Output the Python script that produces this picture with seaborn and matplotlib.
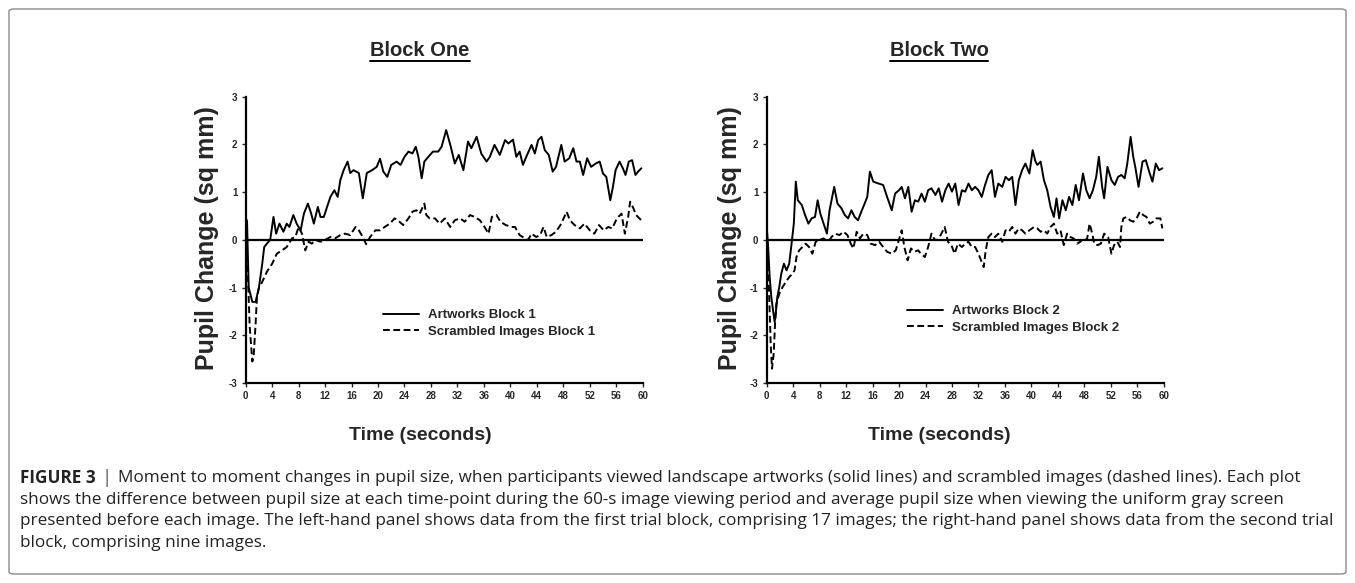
import pandas as pd
import matplotlib.pyplot as plt
import seaborn as sns
from matplotlib.patches import FancyBboxPatch
from matplotlib.lines import Line2D

# (time s, pupil change sq mm)
artworks_block1 = [
    (0.0, 0.45), (0.2, 0.4), (0.45, -1.0), (1.0, -1.3), (1.5, -1.3), (2.0, -1.0), (2.5, -0.5),
    (2.8, -0.15), (3.2, -0.08), (3.7, 0.0), (4.2, 0.48), (4.6, 0.13), (5.1, 0.34), (5.7, 0.17),
    (6.2, 0.34), (6.6, 0.27), (7.2, 0.52), (7.7, 0.34), (8.3, 0.2), (8.8, 0.55), (9.4, 0.76),
    (9.9, 0.55), (10.3, 0.34), (10.9, 0.69), (11.3, 0.48), (11.8, 0.48), (12.3, 0.69), (12.8, 0.9),
    (13.4, 1.04), (13.9, 0.9), (14.3, 1.25), (14.8, 1.46), (15.4, 1.64), (15.8, 1.4), (16.3, 1.46),
    (17.1, 1.4), (17.7, 0.87), (18.3, 1.4), (19.1, 1.46), (19.8, 1.53), (20.3, 1.7), (20.8, 1.43),
    (21.4, 1.32), (22.0, 1.57), (22.8, 1.64), (23.4, 1.57), (24.0, 1.74), (24.6, 1.85), (25.2, 1.81),
    (25.7, 1.95), (26.1, 1.74), (26.6, 1.29), (27.0, 1.64), (27.6, 1.74), (28.3, 1.85), (29.1, 1.85),
    (29.6, 1.95), (30.3, 2.3), (31.0, 1.95), (31.6, 1.6), (32.2, 1.78), (32.9, 1.46), (33.6, 2.06),
    (34.1, 1.92), (34.9, 2.16), (35.6, 1.81), (36.4, 1.64), (36.9, 1.74), (37.6, 1.99), (38.4, 1.78),
    (39.2, 2.09), (39.7, 2.02), (40.4, 2.1), (40.9, 1.74), (41.4, 1.85), (41.9, 1.57), (42.4, 1.74),
    (43.2, 1.99), (43.7, 1.81), (44.2, 2.09), (44.7, 2.16), (45.2, 1.88), (45.8, 1.78), (46.4, 1.43),
    (46.9, 1.53), (47.7, 1.99), (48.2, 1.64), (48.9, 1.71), (49.5, 1.92), (50.0, 1.64), (50.5, 1.64),
    (51.0, 1.36), (51.6, 1.71), (52.2, 1.53), (52.9, 1.6), (53.5, 1.64), (54.0, 1.39), (54.5, 1.32),
    (55.1, 0.83), (55.5, 1.11), (55.9, 1.46), (56.5, 1.64), (57.0, 1.5), (57.4, 1.36), (57.9, 1.64),
    (58.4, 1.67), (58.9, 1.36), (59.3, 1.43), (59.8, 1.5),
]

scrambled_block1 = [
    (0.0, -0.1), (0.3, -0.6), (0.6, -1.8), (1.0, -2.55), (1.2, -2.45), (1.5, -1.75), (1.7, -1.2),
    (2.0, -1.0), (2.5, -0.88), (3.2, -0.67), (4.0, -0.5), (4.7, -0.29), (5.5, -0.22), (6.2, -0.15),
    (7.0, 0.03), (7.5, 0.06), (8.0, 0.27), (8.5, 0.13), (9.0, -0.22), (9.5, -0.04), (10.0, -0.08),
    (10.5, 0.0), (11.3, -0.04), (12.0, 0.0), (12.8, 0.06), (13.5, 0.03), (14.3, 0.1), (15.0, 0.13),
    (15.8, 0.1), (16.6, 0.27), (17.1, 0.2), (17.7, 0.06), (18.2, -0.09), (18.8, 0.06), (19.6, 0.2),
    (20.3, 0.2), (21.0, 0.27), (21.8, 0.34), (22.5, 0.45), (23.0, 0.41), (23.8, 0.31), (24.6, 0.45),
    (25.2, 0.59), (25.8, 0.62), (26.3, 0.55), (27.0, 0.76), (27.3, 0.52), (27.8, 0.45), (28.6, 0.45),
    (29.3, 0.34), (30.1, 0.45), (30.9, 0.27), (31.6, 0.41), (32.4, 0.45), (33.1, 0.38), (33.9, 0.52),
    (34.6, 0.48), (35.4, 0.41), (36.1, 0.27), (36.7, 0.13), (37.2, 0.48), (37.9, 0.52), (38.5, 0.38),
    (39.3, 0.31), (40.2, 0.27), (40.7, 0.27), (41.4, 0.1), (42.2, 0.03), (42.7, 0.0), (43.2, 0.13),
    (43.9, 0.06), (44.5, 0.1), (45.0, 0.27), (45.5, 0.06), (46.2, 0.1), (46.9, 0.17), (47.7, 0.34),
    (48.5, 0.59), (49.0, 0.41), (49.7, 0.31), (50.5, 0.24), (51.2, 0.34), (52.0, 0.2), (52.7, 0.13),
    (53.4, 0.31), (54.1, 0.2), (54.8, 0.27), (55.4, 0.24), (56.1, 0.45), (56.8, 0.55), (57.3, 0.13),
    (57.8, 0.48), (58.1, 0.8), (58.6, 0.66), (59.0, 0.52), (59.5, 0.45), (59.8, 0.41),
]

artworks_block2 = [
    (0.0, 0.27), (0.2, -0.1), (0.45, -0.78), (0.7, -1.2), (0.96, -1.48), (1.2, -1.72), (1.36, -1.55),
    (1.6, -1.2), (1.9, -0.99), (2.2, -0.71), (2.6, -0.5), (3.0, -0.64), (3.4, -0.5), (3.7, -0.15),
    (4.1, 0.34), (4.4, 1.22), (4.7, 0.83), (5.3, 0.73), (5.8, 0.52), (6.3, 0.34), (6.8, 0.45),
    (7.3, 0.48), (7.7, 0.83), (8.1, 0.55), (8.6, 0.34), (9.1, 0.13), (9.5, 0.62), (10.2, 1.11),
    (10.7, 0.76), (11.3, 0.66), (11.8, 0.52), (12.3, 0.45), (12.8, 0.62), (13.3, 0.48), (13.8, 0.41),
    (14.3, 0.59), (14.8, 0.76), (15.2, 0.9), (15.6, 1.43), (16.1, 1.22), (16.9, 1.18), (17.6, 1.15),
    (18.2, 0.9), (18.9, 0.62), (19.4, 0.97), (20.0, 1.04), (20.4, 1.11), (20.9, 0.87), (21.4, 1.11),
    (21.9, 0.59), (22.4, 0.83), (22.9, 0.8), (23.4, 0.97), (23.9, 0.8), (24.4, 1.04), (24.9, 1.08),
    (25.5, 0.94), (26.0, 1.08), (26.5, 0.8), (27.0, 1.04), (27.5, 1.18), (28.0, 1.01), (28.5, 1.18),
    (29.0, 0.73), (29.5, 1.04), (30.0, 1.01), (30.5, 1.18), (31.0, 1.04), (31.5, 1.11), (32.0, 1.04),
    (32.5, 0.9), (33.0, 1.15), (33.5, 1.36), (34.0, 1.46), (34.5, 0.9), (35.0, 1.18), (35.6, 1.11),
    (36.1, 1.32), (36.6, 1.25), (37.1, 1.32), (37.6, 0.73), (38.1, 1.25), (38.6, 1.46), (39.1, 1.6),
    (39.7, 1.39), (40.2, 1.88), (40.6, 1.65), (40.9, 1.57), (41.4, 1.64), (41.9, 1.25), (42.4, 1.04),
    (42.9, 0.69), (43.4, 0.48), (43.8, 0.87), (44.2, 0.45), (44.7, 0.83), (45.2, 0.62), (45.7, 0.9),
    (46.2, 0.73), (46.7, 1.15), (47.2, 0.83), (47.8, 1.39), (48.3, 1.04), (48.8, 0.87), (49.3, 1.04),
    (49.8, 1.32), (50.2, 1.74), (50.7, 1.11), (51.0, 0.87), (51.5, 1.53), (52.1, 1.25), (52.6, 1.15),
    (53.1, 1.32), (53.6, 1.36), (54.1, 1.29), (54.5, 1.6), (55.0, 2.16), (55.4, 1.74), (55.7, 1.53),
    (56.2, 1.11), (56.8, 1.64), (57.3, 1.67), (57.8, 1.43), (58.3, 1.22), (58.8, 1.6), (59.3, 1.46),
    (59.8, 1.5),
]

scrambled_block2 = [
    (0.0, -0.08), (0.35, -1.06), (0.6, -2.17), (0.8, -2.7), (1.06, -2.38), (1.26, -1.76), (1.46, -1.34),
    (1.9, -1.13), (2.4, -0.99), (2.9, -0.88), (3.4, -0.78), (3.9, -0.71), (4.2, -0.64), (4.5, -0.36),
    (4.9, -0.22), (5.4, -0.15), (5.9, -0.08), (6.4, -0.15), (6.9, -0.29), (7.4, -0.04), (8.0, 0.0),
    (8.6, 0.03), (9.3, -0.04), (9.8, 0.06), (10.3, 0.13), (11.0, 0.1), (11.6, 0.17), (12.2, 0.1),
    (12.7, -0.08), (13.1, -0.18), (13.6, 0.17), (14.1, 0.03), (14.6, 0.13), (15.2, 0.1), (15.7, -0.08),
    (16.4, -0.11), (17.0, -0.04), (17.6, -0.15), (18.2, -0.25), (18.9, -0.29), (19.5, -0.22),
    (19.9, -0.04), (20.4, 0.2), (20.8, -0.15), (21.3, -0.43), (21.8, -0.18), (22.3, -0.25),
    (22.9, -0.22), (23.3, -0.29), (23.9, -0.36), (24.4, -0.15), (24.9, 0.13), (25.4, 0.0), (25.9, 0.0),
    (26.4, 0.13), (26.9, 0.27), (27.4, -0.04), (27.9, -0.11), (28.4, -0.29), (28.9, -0.08),
    (29.5, -0.15), (30.0, -0.08), (30.5, -0.04), (31.0, -0.15), (31.5, -0.15), (32.0, -0.29),
    (32.4, -0.43), (32.8, -0.57), (33.1, -0.22), (33.5, 0.06), (34.0, 0.13), (34.5, 0.06), (35.0, 0.13),
    (35.6, -0.04), (36.1, 0.2), (36.6, 0.17), (37.1, 0.27), (37.6, 0.13), (38.1, 0.24), (38.6, 0.2),
    (39.1, 0.13), (39.7, 0.2), (40.4, 0.27), (40.9, 0.24), (41.4, 0.17), (41.9, 0.2), (42.4, 0.13),
    (42.9, 0.27), (43.4, 0.34), (43.9, 0.13), (44.4, 0.2), (44.9, -0.11), (45.4, 0.13), (45.9, 0.06),
    (46.4, 0.03), (46.9, -0.08), (47.4, -0.04), (47.9, 0.03), (48.4, 0.0), (48.8, 0.34), (49.2, 0.13),
    (49.5, -0.08), (50.0, -0.11), (50.5, -0.08), (51.0, 0.13), (51.6, 0.06), (52.1, -0.29),
    (52.5, -0.11), (53.0, -0.04), (53.4, -0.15), (53.6, 0.27), (53.9, 0.45), (54.4, 0.48), (54.9, 0.41),
    (55.4, 0.38), (55.9, 0.45), (56.4, 0.59), (56.9, 0.52), (57.4, 0.48), (57.9, 0.34), (58.4, 0.38),
    (58.9, 0.45), (59.5, 0.45), (59.8, 0.24),
]

panel_titles = ["Block One", "Block Two"]
legend_labels = [("Artworks Block 1", "Scrambled Images Block 1"),
                 ("Artworks Block 2", "Scrambled Images Block 2")]
x_ticks = list(range(0, 61, 4))
y_ticks = [-3, -2, -1, 0, 1, 2, 3]

caption_lines = [
    "Moment to moment changes in pupil size, when participants viewed landscape artworks (solid lines) and scrambled images (dashed lines). Each plot",
    "shows the difference between pupil size at each time-point during the 60-s image viewing period and average pupil size when viewing the uniform gray screen",
    "presented before each image. The left-hand panel shows data from the first trial block, comprising 17 images; the right-hand panel shows data from the second trial",
    "block, comprising nine images.",
]

sns.set_style("ticks")
plt.rcParams['font.family'] = ['Liberation Sans', 'DejaVu Sans']
plt.rcParams['axes.unicode_minus'] = False

W, H = 1355, 583
fig = plt.figure(figsize=(W / 100, H / 100), dpi=100)

# border around the whole figure
fig.patches.append(FancyBboxPatch((9 / W, 9 / H), 1 - 18 / W, 1 - 18 / H,
                                  boxstyle="round,pad=0,rounding_size=0.004",
                                  transform=fig.transFigure, fill=False,
                                  edgecolor="#8a8a8a", linewidth=1.0))

ax_left = [245.7, 766.7]
ax_w = 397.0
ax_top, ax_bot = 96.7, 383.0
title_x = [420, 939]
ylab_x = [207, 730]
leg_pos = [(383, 309), (907, 305)]

pairs = [(artworks_block1, scrambled_block1), (artworks_block2, scrambled_block2)]

title_texts = []
for i in range(2):
    ax = fig.add_axes([ax_left[i] / W, 1 - ax_bot / H, ax_w / W, (ax_bot - ax_top) / H])
    art = pd.DataFrame(pairs[i][0], columns=["time", "change"])
    scr = pd.DataFrame(pairs[i][1], columns=["time", "change"])
    sns.lineplot(data=art, x="time", y="change", ax=ax, color="black", linewidth=1.4,
                 label=legend_labels[i][0])
    sns.lineplot(data=scr, x="time", y="change", ax=ax, color="black", linewidth=1.4,
                 linestyle=(0, (3.5, 1.8)), label=legend_labels[i][1])
    ax.axhline(0, color="black", linewidth=1.6, zorder=1)

    ax.set_xlim(0, 60)
    ax.set_ylim(-3, 3)
    ax.set_xticks(x_ticks)
    ax.set_yticks(y_ticks)
    ax.tick_params(axis="both", direction="out", length=3, width=1, labelsize=7, pad=3)
    for lab in ax.get_xticklabels() + ax.get_yticklabels():
        lab.set_fontweight("bold")
        lab.set_family(['Liberation Sans', 'DejaVu Sans'])
    for side in ["top", "right"]:
        ax.spines[side].set_visible(False)
    for side in ["left", "bottom"]:
        ax.spines[side].set_linewidth(1.6)
        ax.spines[side].set_color("black")
    ax.set_xlabel("")
    ax.set_ylabel("")

    lx, ly = leg_pos[i]
    ax.legend(loc="upper left", bbox_to_anchor=(lx / W, 1 - ly / H), bbox_transform=fig.transFigure,
              frameon=False, prop={"weight": "bold", "size": 9.5}, handlelength=2.7,
              handletextpad=0.7, labelspacing=0.35, borderpad=0, borderaxespad=0)

    title_texts.append(fig.text(title_x[i] / W, 1 - 50 / H, panel_titles[i], ha="center", va="center",
                                fontsize=14.5, fontweight="bold"))
    fig.text(ylab_x[i] / W, 1 - 238 / H, "Pupil Change (sq mm)", rotation=90, ha="center", va="center",
             fontsize=18, fontweight="bold")
    fig.text(title_x[i] / W, 1 - 435 / H, "Time (seconds)", ha="center", va="center",
             fontsize=14, fontweight="bold")

fig.canvas.draw()
renderer = fig.canvas.get_renderer()

# underline the panel titles
for t in title_texts:
    bb = t.get_window_extent(renderer)
    fig.add_artist(Line2D([bb.x0 / W, bb.x1 / W], [(bb.y0 - 1) / H, (bb.y0 - 1) / H],
                          transform=fig.transFigure, color="black", linewidth=1.4))

# caption
cap_font = ['Open Sans', 'DejaVu Sans']
cap_size = 12.3
line_y = [478, 500, 521, 543]
head = fig.text(20 / W, 1 - line_y[0] / H, "FIGURE 3", fontsize=cap_size, fontweight="bold",
                va="center", ha="left", color="#222222", family=cap_font)
bb = head.get_window_extent(renderer)
bar = fig.text((bb.x1 + 6) / W, 1 - line_y[0] / H, "|", fontsize=cap_size + 1, va="center",
               ha="left", color="#555555", family=cap_font)
bb2 = bar.get_window_extent(renderer)
fig.text((bb2.x1 + 6) / W, 1 - line_y[0] / H, caption_lines[0], fontsize=cap_size, va="center",
         ha="left", color="#222222", family=cap_font)
for k in range(1, 4):
    fig.text(20 / W, 1 - line_y[k] / H, caption_lines[k], fontsize=cap_size, va="center",
             ha="left", color="#222222", family=cap_font)

fig.savefig("out.png", dpi=100)
